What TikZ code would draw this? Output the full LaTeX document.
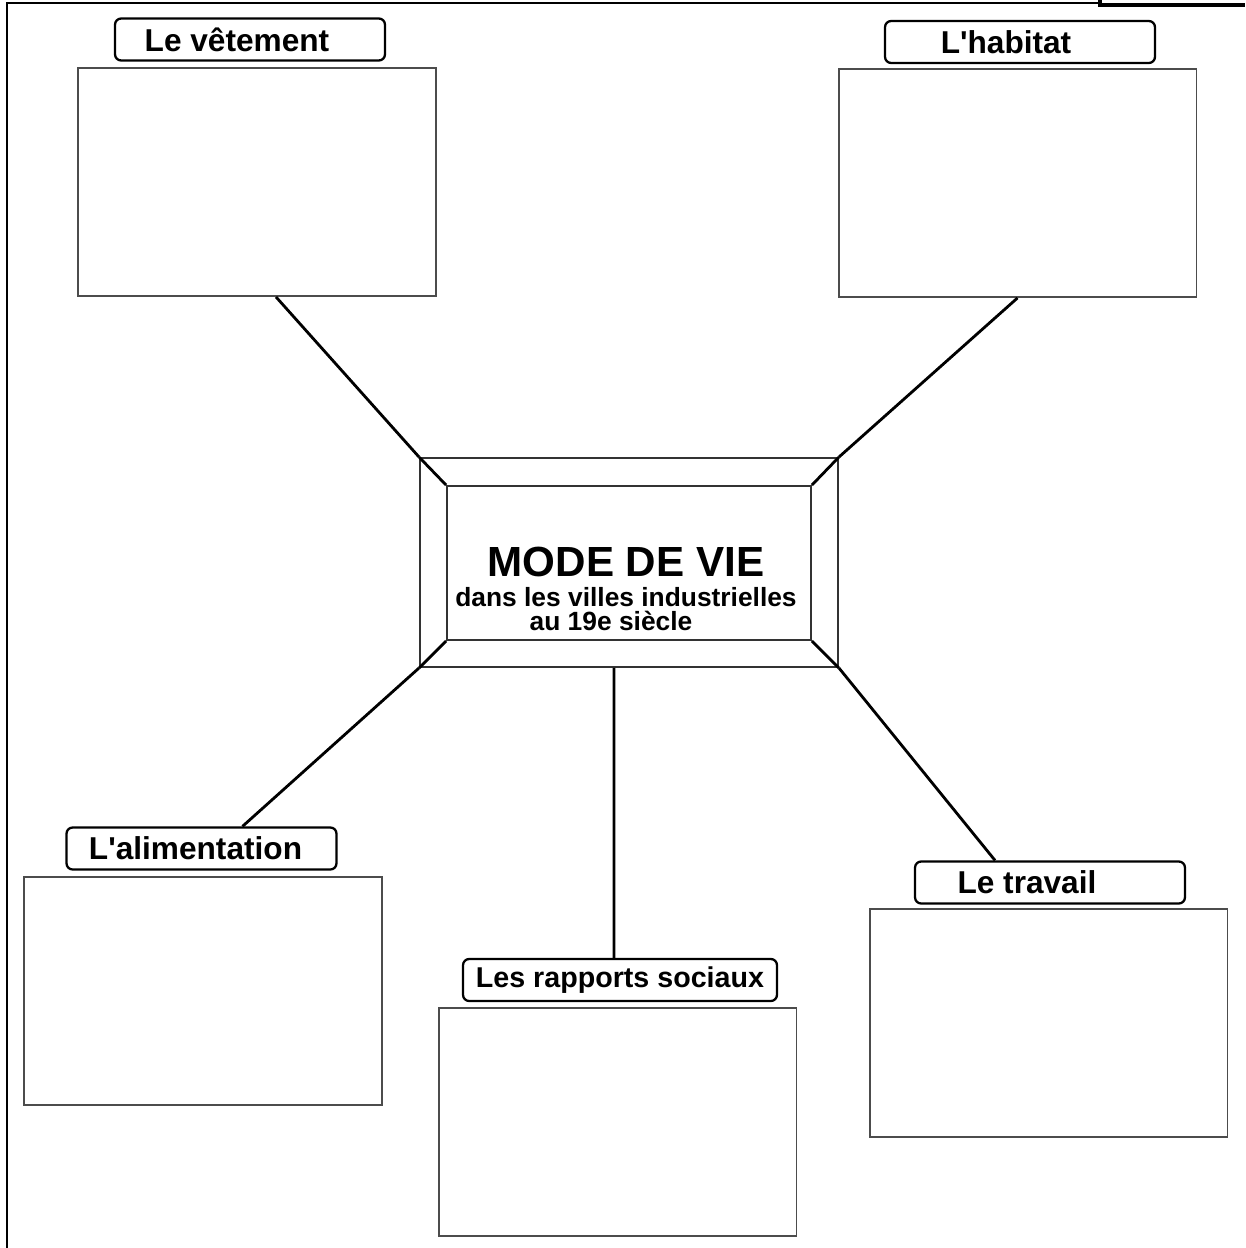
\documentclass[tikz,border=0pt]{standalone}
\usepackage{fontspec}
\setmainfont{Liberation Sans}
\usetikzlibrary{calc}

\tikzstyle{tag} = [draw, rounded corners=3.5pt, line width=1.3pt, minimum width=5.4cm, minimum height=0.84cm, inner sep=0pt, font=\fontsize{18}{20}\selectfont\bfseries]
\tikzstyle{answer} = [draw=black!70, line width=1.1pt, minimum width=7.16cm, minimum height=4.56cm]
\tikzstyle{frame} = [draw=black!80, line width=1.1pt, inner sep=0pt]
\tikzstyle{spoke} = [line width=1.6pt]

\begin{document}
\begin{tikzpicture}[x=0.02cm, y=-0.02cm]
  \useasboundingbox (0,0) rectangle (1245,1248);
  % page border
  \draw[line width=1.2pt] (7,1248) -- (7,3) -- (1100,3);
  \draw[line width=1.8pt] (1100,0) -- (1100,5) -- (1245,5);

  % centre
  \node[frame, minimum width=8.36cm, minimum height=4.18cm] (outer) at (629,562.5) {};
  \node[frame, minimum width=7.28cm, minimum height=3.08cm] (inner) at (629,563) {};
  \node[anchor=north, inner sep=0pt, align=center, font=\fontsize{15}{12}\selectfont\bfseries] (title) at (626,547)
    {{\fontsize{24}{30}\selectfont MODE DE VIE}\\[5pt]
     dans les villes industrielles\\[1.5pt]
     au 19e siècle\hspace*{0.6cm}};
  \draw[spoke] (outer.north west) -- (inner.north west);
  \draw[spoke] (outer.north east) -- (inner.north east);
  \draw[spoke] (outer.south west) -- (inner.south west);
  \draw[spoke] (outer.south east) -- (inner.south east);

  % themes
  \node[tag] (vetTag) at (250,39.5) {Le vêtement\hspace*{0.52cm}};
  \node[answer] (vetBox) at (257,182) {};
  \node[tag] (habTag) at (1020,42) {L\textquotesingle habitat\hspace*{0.56cm}};
  \node[answer] (habBox) at (1017.5,183) {};
  \node[tag] (aliTag) at (201.5,848.5) {L\textquotesingle alimentation\hspace*{0.24cm}};
  \node[answer] (aliBox) at (203,991) {};
  \node[tag, minimum width=6.28cm, font=\fontsize{16.3}{20}\selectfont\bfseries] (rapTag) at (620,980) {Les rapports sociaux};
  \node[answer] (rapBox) at (617.5,1122) {};
  \node[tag] (traTag) at (1050,882.5) {Le travail\hspace*{0.92cm}};
  \node[answer] (traBox) at (1048.5,1023) {};

  % spokes
  \draw[spoke] ([xshift=0.38cm]vetBox.south) -- (outer.north west);
  \draw[spoke] (habBox.south) -- (outer.north east);
  \draw[spoke] ([xshift=0.82cm]aliTag.north) -- (outer.south west);
  \draw[spoke] ([xshift=-0.12cm]rapTag.north) -- ([xshift=-0.3cm]outer.south);
  \draw[spoke] ([xshift=-1.1cm]traTag.north) -- (outer.south east);
\end{tikzpicture}
\end{document}
